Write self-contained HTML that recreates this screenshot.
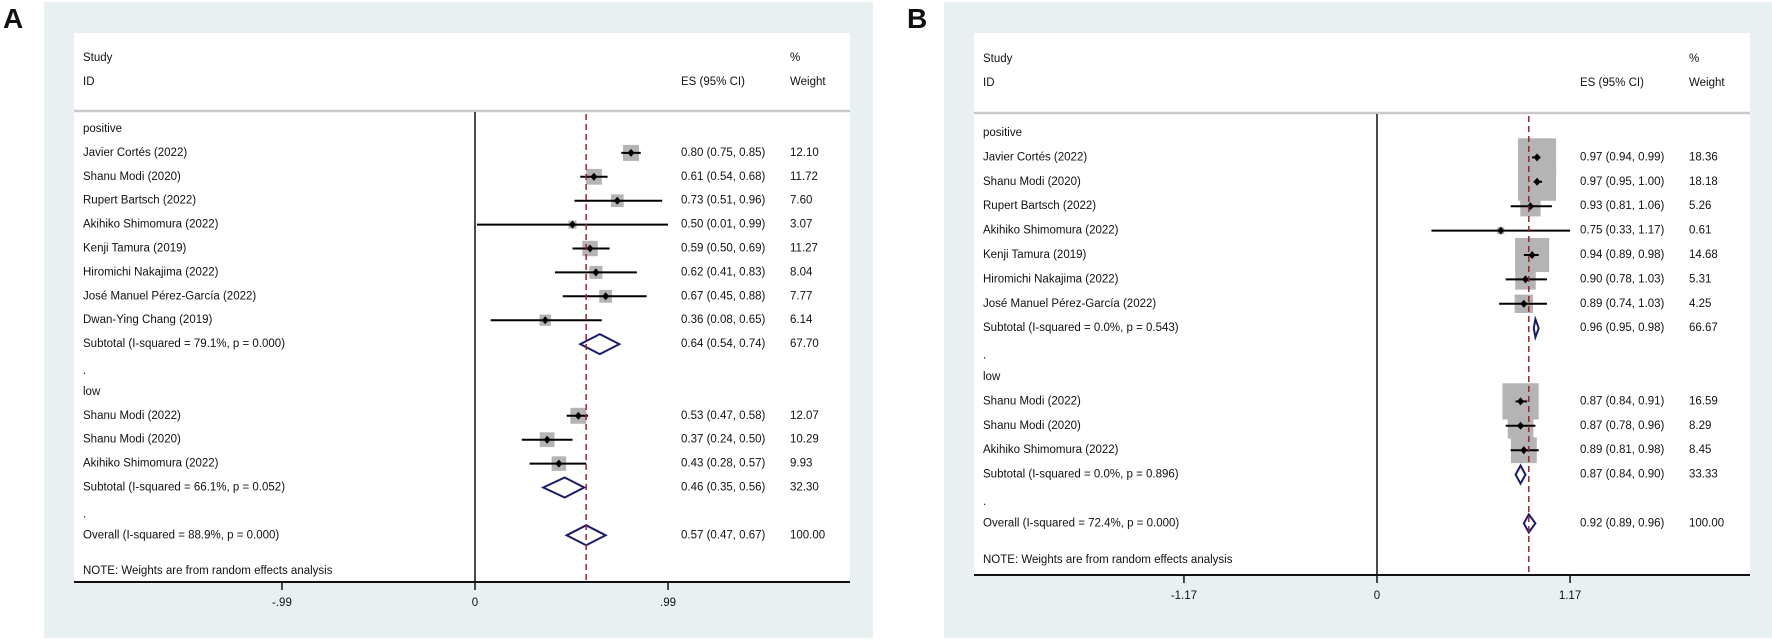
<!DOCTYPE html>
<html><head><meta charset="utf-8"><style>
html,body{margin:0;padding:0;background:#fff;}
svg{display:block;font-family:"Liberation Sans",Arial,sans-serif;}
text{font-size:11.5px;fill:#111;}
</style></head><body>
<svg id="fig" width="1772" height="640" viewBox="0 0 1772 640"></svg>
<script>
// ---- Panel A data ----
const aLabels = ["Javier Cortés (2022)","Shanu Modi (2020)","Rupert Bartsch (2022)","Akihiko Shimomura (2022)","Kenji Tamura (2019)","Hiromichi Nakajima (2022)","José Manuel Pérez-García (2022)","Dwan-Ying Chang (2019)","Shanu Modi (2022)","Shanu Modi (2020)","Akihiko Shimomura (2022)"];
const aGroup = ["positive","positive","positive","positive","positive","positive","positive","positive","low","low","low"];
const aES = [0.80,0.61,0.73,0.50,0.59,0.62,0.67,0.36,0.53,0.37,0.43];
const aLo = [0.75,0.54,0.51,0.01,0.50,0.41,0.45,0.08,0.47,0.24,0.28];
const aHi = [0.85,0.68,0.96,0.99,0.69,0.83,0.88,0.65,0.58,0.50,0.57];
const aW = [12.10,11.72,7.60,3.07,11.27,8.04,7.77,6.14,12.07,10.29,9.93];
const aSubES = [0.64,0.46]; const aSubLo=[0.54,0.35]; const aSubHi=[0.74,0.56]; const aSubW=[67.70,32.30];
const aSubText = ["Subtotal  (I-squared = 79.1%, p = 0.000)","Subtotal  (I-squared = 66.1%, p = 0.052)"];
const aOverall = [0.57,0.47,0.67,100.00];
const aOverallText = "Overall  (I-squared = 88.9%, p = 0.000)";
const aTicks = [-0.99,0,0.99]; const aTickLabels=["-.99","0",".99"];
// ---- Panel B data ----
const bLabels = ["Javier Cortés (2022)","Shanu Modi (2020)","Rupert Bartsch (2022)","Akihiko Shimomura (2022)","Kenji Tamura (2019)","Hiromichi Nakajima (2022)","José Manuel Pérez-García (2022)","Shanu Modi (2022)","Shanu Modi (2020)","Akihiko Shimomura (2022)"];
const bGroup = ["positive","positive","positive","positive","positive","positive","positive","low","low","low"];
const bES = [0.97,0.97,0.93,0.75,0.94,0.90,0.89,0.87,0.87,0.89];
const bLo = [0.94,0.95,0.81,0.33,0.89,0.78,0.74,0.84,0.78,0.81];
const bHi = [0.99,1.00,1.06,1.17,0.98,1.03,1.03,0.91,0.96,0.98];
const bW = [18.36,18.18,5.26,0.61,14.68,5.31,4.25,16.59,8.29,8.45];
const bSubES=[0.96,0.87]; const bSubLo=[0.95,0.84]; const bSubHi=[0.98,0.90]; const bSubW=[66.67,33.33];
const bSubText = ["Subtotal  (I-squared = 0.0%, p = 0.543)","Subtotal  (I-squared = 0.0%, p = 0.896)"];
const bOverall = [0.92,0.89,0.96,100.00];
const bOverallText = "Overall  (I-squared = 72.4%, p = 0.000)";
const bTicks = [-1.17,0,1.17]; const bTickLabels=["-1.17","0","1.17"];

const NS="http://www.w3.org/2000/svg";
const svg=document.getElementById('fig');
function mk(tag,attrs,parent){const e=document.createElementNS(NS,tag);for(const k in attrs)e.setAttribute(k,attrs[k]);(parent||svg).appendChild(e);return e;}
function txt(x,y,s,parent,anchor){const t=mk('text',{x:x,y:y,'dominant-baseline':'middle','text-anchor':anchor||'start'},parent);t.textContent=s;return t;}
const f2=v=>v.toFixed(2);

function panel(cfg){
  const g=mk('g',{});
  
  
  const bg=mk('rect',{x:cfg.bgX,y:2,width:cfg.bgW,height:636,fill:'#e9f0f2'},g);
  
  
  const pl=mk('rect',{x:cfg.px,y:33,width:cfg.pw,height:cfg.axisY-33,fill:'#fff'},g);
  
  
  const lt=mk('text',{x:cfg.letterX,y:28,'font-size':'28','font-weight':'bold',style:'font-size:28px;font-weight:bold'},g);
  lt.textContent=cfg.id;  
  const X=v=>cfg.zeroX+v*cfg.unit;
  const Y=i=>cfg.y0+i*cfg.pitch;
  const tx=cfg.px+9;
  // header
  let h=txt(tx,cfg.hy,'Study',g);  
  h=txt(tx,cfg.hy+24,'ID',g);  
  h=txt(cfg.esX,cfg.hy+24,'ES (95% CI)',g);  
  h=txt(cfg.wX,cfg.hy,'%',g);  
  h=txt(cfg.wX,cfg.hy+24,'Weight',g);  
  const hl=mk('line',{x1:cfg.px,x2:cfg.px+cfg.pw,y1:cfg.hl,y2:cfg.hl,stroke:'#c8c8c8','stroke-width':2.5},g);
   
  // zero line
  const zl=mk('line',{x1:X(0),x2:X(0),y1:cfg.hl+1,y2:cfg.axisY,stroke:'#111','stroke-width':1.5},g);
   
  // rows
  let row=0; const groups=['positive','low'];
  const boxes=mk('g',{},g), marks=mk('g',{},g);
  groups.forEach((gr,gi)=>{
    let t=txt(tx,Y(row),gr,g);  
    row++;
    for(let i=0;i<cfg.labels.length;i++){ if(cfg.group[i]!==gr)continue;
      const y=Y(row);
      t=txt(tx,y,cfg.labels[i],g);  
      t=txt(cfg.esX,y,f2(cfg.es[i])+' ('+f2(cfg.lo[i])+', '+f2(cfg.hi[i])+')',g);  
      t=txt(cfg.wX,y,f2(cfg.w[i]),g);  
      const s=cfg.k*Math.sqrt(cfg.w[i]);
      const b=mk('rect',{x:X(cfg.es[i])-s/2,y:y-s/2,width:s,height:s,fill:'#b4b4b4'},boxes);
       
      const l=mk('line',{x1:X(cfg.lo[i]),x2:X(cfg.hi[i]),y1:y,y2:y,stroke:'#000','stroke-width':2},marks);
       
      const px=X(cfg.es[i]);
      const p=mk('polygon',{points:`${px-3.5},${y} ${px},${y-4} ${px+3.5},${y} ${px},${y+4}`,fill:'#000'},marks);
       
      row++;
    }
    const y=Y(row);
    let t2=txt(tx,y,cfg.subText[gi],g);  
    t2=txt(cfg.esX,y,f2(cfg.subES[gi])+' ('+f2(cfg.subLo[gi])+', '+f2(cfg.subHi[gi])+')',g);  
    t2=txt(cfg.wX,y,f2(cfg.subW[gi]),g);  
    const d=mk('polygon',{points:`${X(cfg.subLo[gi])},${y} ${X(cfg.subES[gi])},${y-cfg.dh} ${X(cfg.subHi[gi])},${y} ${X(cfg.subES[gi])},${y+cfg.dh}`,fill:'#fff',stroke:'#1b1b6b','stroke-width':2},marks);
     
    row++;
    t2=txt(tx,Y(row)+3,'.',g);  
    row++;
  });
  const y=Y(row);
  let t=txt(tx,y,cfg.ovText,g);  
  t=txt(cfg.esX,y,f2(cfg.ov[0])+' ('+f2(cfg.ov[1])+', '+f2(cfg.ov[2])+')',g);  
  t=txt(cfg.wX,y,f2(cfg.ov[3]),g);  
  const od=mk('polygon',{points:`${X(cfg.ov[1])},${y} ${X(cfg.ov[0])},${y-cfg.dh} ${X(cfg.ov[2])},${y} ${X(cfg.ov[0])},${y+cfg.dh}`,fill:'#fff',stroke:'#1b1b6b','stroke-width':2},marks);
   
  t=txt(tx,Y(row+1.5),'NOTE: Weights are from random effects analysis',g);  
  // dashed overall line
  const dl=mk('line',{x1:X(cfg.ov[0]),x2:X(cfg.ov[0]),y1:cfg.hl+3,y2:cfg.axisY,stroke:'#a0202a','stroke-width':1.5,'stroke-dasharray':'6,4'},g);
   
  // axis
  const ax=mk('line',{x1:cfg.px,x2:cfg.px+cfg.pw,y1:cfg.axisY,y2:cfg.axisY,stroke:'#111','stroke-width':2},g);
   
  cfg.ticks.forEach((v,i)=>{
    const tk=mk('line',{x1:X(v),x2:X(v),y1:cfg.axisY,y2:cfg.axisY+8,stroke:'#111','stroke-width':1.5},g);
     
    const tl=txt(X(v),cfg.axisY+21,cfg.tickLabels[i],g,'middle');
     
  });
}
panel({id:'A',bgX:44,bgW:829,px:74,pw:776,letterX:3,zeroX:475,unit:195,y0:129,pitch:23.9,hy:58,hl:111,axisY:582,esX:681,wX:790,k:4.6,dh:10,
  labels:aLabels,group:aGroup,es:aES,lo:aLo,hi:aHi,w:aW,subES:aSubES,subLo:aSubLo,subHi:aSubHi,subW:aSubW,subText:aSubText,ov:aOverall,ovText:aOverallText,ticks:aTicks,tickLabels:aTickLabels});
panel({id:'B',bgX:944,bgW:828,px:974,pw:776,letterX:907,zeroX:1377,unit:165,y0:133,pitch:24.4,hy:59,hl:113,axisY:575,esX:1580,wX:1689,k:8.9,dh:9,
  labels:bLabels,group:bGroup,es:bES,lo:bLo,hi:bHi,w:bW,subES:bSubES,subLo:bSubLo,subHi:bSubHi,subW:bSubW,subText:bSubText,ov:bOverall,ovText:bOverallText,ticks:bTicks,tickLabels:bTickLabels});
</script>
</body></html>
